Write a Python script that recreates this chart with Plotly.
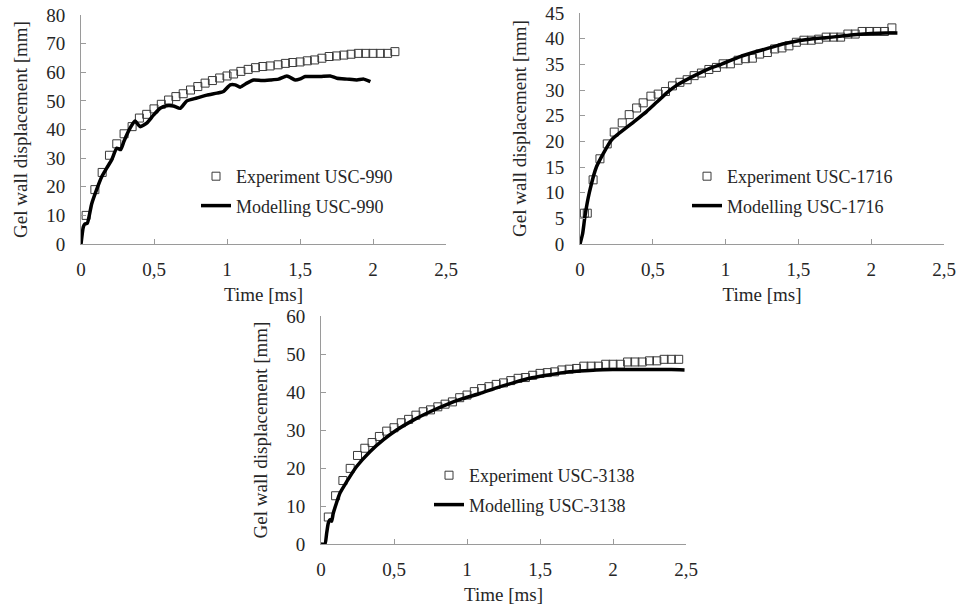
import plotly.graph_objects as go

# ---- USC-990 ----
exp990_t = [0.035, 0.095, 0.145, 0.195, 0.245, 0.295, 0.35, 0.4, 0.45, 0.5, 0.55, 0.6, 0.65, 0.7,
            0.75, 0.8, 0.85, 0.9, 0.95, 1.0, 1.045, 1.095, 1.145, 1.195, 1.245, 1.295, 1.35, 1.4,
            1.45, 1.5, 1.55, 1.6, 1.65, 1.7, 1.75, 1.8, 1.85, 1.9, 1.95, 2.0, 2.05, 2.1, 2.15]
exp990_d = [10, 19, 25, 31, 35, 38.5, 41, 44, 45.3, 47.2, 48.8, 50.3, 51.5, 52.5,
            53.8, 55, 56.2, 57.1, 58, 58.7, 59.4, 60.3, 61, 61.6, 62, 62.2, 62.6, 63.1,
            63.4, 63.6, 64, 64.3, 64.9, 65.5, 65.7, 66, 66.3, 66.6, 66.6, 66.6, 66.6, 66.6, 67.2]
mod990_t = [0, 0.016, 0.027, 0.043, 0.073, 0.107, 0.142, 0.176, 0.21, 0.245, 0.272, 0.295, 0.336,
            0.37, 0.405, 0.45, 0.496, 0.542, 0.587, 0.633, 0.679, 0.725, 0.793, 0.862, 0.93, 0.976,
            1.022, 1.056, 1.09, 1.136, 1.182, 1.239, 1.296, 1.353, 1.41, 1.467, 1.502, 1.536, 1.639,
            1.707, 1.753, 1.822, 1.89, 1.936, 1.982]
mod990_d = [0, 6, 7, 7.2, 14, 19, 23.5, 26.5, 29.4, 33.5, 33, 36, 40.5,
            43, 41, 42.2, 45, 47.4, 48.3, 48.2, 47.4, 50, 51, 52, 52.7, 53.3,
            55.6, 55.6, 54.8, 56.2, 57.3, 57.1, 57.3, 57.6, 58.7, 57.3, 57.7, 58.5, 58.5,
            58.7, 57.9, 57.6, 57.3, 57.6, 56.7]

# ---- USC-1716 ----
exp1716_t = [0.03, 0.05, 0.09, 0.137, 0.187, 0.235, 0.29, 0.338, 0.389, 0.434, 0.487, 0.537, 0.587,
             0.635, 0.686, 0.736, 0.784, 0.834, 0.885, 0.937, 0.983, 1.033, 1.086, 1.136, 1.184,
             1.234, 1.287, 1.337, 1.387, 1.435, 1.486, 1.538, 1.589, 1.639, 1.691, 1.742, 1.79,
             1.84, 1.89, 1.938, 1.989, 2.039, 2.091, 2.142]
exp1716_d = [6.0, 6.0, 12.5, 16.6, 19.5, 21.8, 23.6, 25.2, 26.5, 27.5, 28.8, 29.2, 29.7,
             30.8, 31.5, 32, 32.8, 33.3, 34, 34.4, 35.1, 35.1, 35.8, 36.1, 36.2,
             37, 37.3, 38, 38.2, 38.6, 39.3, 39.7, 39.7, 39.9, 40.3, 40.3, 40.3,
             40.9, 40.9, 41.4, 41.4, 41.4, 41.4, 42.1]
mod1716_t = [0, 0.018, 0.034, 0.064, 0.114, 0.217, 0.343, 0.457, 0.526, 0.594, 0.663, 0.8, 0.9,
             0.97, 1.1, 1.2, 1.3, 1.4, 1.5, 1.6, 1.69, 1.8, 1.9, 2.0, 2.1, 2.18]
mod1716_d = [0, 2, 5.4, 10, 15.1, 20.3, 23.2, 25.8, 27.6, 29.4, 30.9, 33, 34.3,
             35, 36.5, 37.4, 38.2, 39, 39.6, 40, 40.2, 40.5, 40.8, 41, 41.1, 41.1]

# ---- USC-3138 ----
exp3138_t = [0.05, 0.1, 0.15, 0.2, 0.25, 0.3, 0.35, 0.4, 0.45, 0.5, 0.55, 0.6, 0.65, 0.7, 0.75,
             0.8, 0.85, 0.9, 0.95, 1.0, 1.05, 1.1, 1.15, 1.2, 1.25, 1.3, 1.35, 1.4, 1.45, 1.5,
             1.55, 1.6, 1.65, 1.7, 1.75, 1.8, 1.85, 1.9, 1.95, 2.0, 2.05, 2.1, 2.15, 2.2, 2.25,
             2.3, 2.35, 2.4, 2.45]
exp3138_d = [7.1, 12.7, 16.7, 19.9, 23.3, 25.2, 26.7, 28.3, 29.7, 30.6, 31.9, 32.8, 33.9, 34.8,
             35.3, 36.1, 36.8, 37.4, 38.5, 39.2, 40.1, 40.9, 41.4, 42, 42.4, 43, 43.6, 43.8, 44.4,
             44.9, 45.1, 45.3, 45.8, 46, 46.2, 46.8, 46.8, 46.8, 47.3, 47.3, 47.3, 47.9, 47.9,
             47.9, 48.2, 48.2, 48.6, 48.6, 48.6]
mod3138_t = [0, 0.027, 0.039, 0.05, 0.062, 0.073, 0.084, 0.13, 0.176, 0.244, 0.335, 0.426, 0.518,
             0.632, 0.746, 0.86, 0.974, 1.088, 1.202, 1.316, 1.43, 1.544, 1.658, 1.771, 1.885,
             1.999, 2.2, 2.4, 2.49]
mod3138_d = [0, 0, 2.9, 5.5, 6.4, 6, 8.1, 13.4, 16.4, 20.4, 24.3, 27.4, 30,
             32.6, 34.8, 36.7, 38.3, 39.6, 41.1, 42.4, 43.6, 44.4, 45.1, 45.5, 45.8,
             45.9, 45.9, 45.9, 45.8]

x_ticks = [0, 0.5, 1, 1.5, 2, 2.5]
FONT = "Times New Roman, Liberation Serif, DejaVu Serif, serif"
TXT = "#262626"
AX = "#9a9a9a"

panels = [
    ("", "USC-990", exp990_t, exp990_d, mod990_t, mod990_d, "legend"),
    ("2", "USC-1716", exp1716_t, exp1716_d, mod1716_t, mod1716_d, "legend2"),
    ("3", "USC-3138", exp3138_t, exp3138_d, mod3138_t, mod3138_d, "legend3"),
]

fig = go.Figure()
for k, name, et, ed, mt, md, leg in panels:
    fig.add_trace(go.Scatter(
        x=et, y=ed, mode="markers", name="Experiment " + name,
        xaxis="x" + k, yaxis="y" + k, legend=leg, legendgroup=name + "e",
        marker=dict(symbol="square-open", size=8, color="#3a3a3a", line=dict(width=1)),
        cliponaxis=False,
    ))
    fig.add_trace(go.Scatter(
        x=mt, y=md, mode="lines", name="Modelling " + name,
        xaxis="x" + k, yaxis="y" + k, legend=leg, legendgroup=name + "m",
        line=dict(color="black", width=3.5, shape="spline", smoothing=0.5),
    ))


def xax(domain, anchor):
    return dict(domain=domain, anchor=anchor, range=[0, 2.5], tickvals=x_ticks,
                showgrid=False, zeroline=False, showline=True, linecolor=AX, linewidth=1,
                ticks="inside", ticklen=5, tickcolor=AX, automargin=False,
                tickfont=dict(family=FONT, size=19, color=TXT), ticklabelstandoff=8,
                title=dict(text="Time [ms]", font=dict(family=FONT, size=19, color=TXT), standoff=8))


def yax(domain, anchor, top, step):
    return dict(domain=domain, anchor=anchor, range=[0, top], dtick=step, tick0=0,
                showgrid=False, zeroline=False, showline=True, linecolor=AX, linewidth=1,
                ticks="inside", ticklen=5, tickcolor=AX, automargin=False,
                tickfont=dict(family=FONT, size=19, color=TXT), ticklabelstandoff=11,
                title=dict(text="Gel wall displacement [mm]",
                           font=dict(family=FONT, size=19, color=TXT), standoff=13))


def legend(x, y):
    return dict(x=x, y=y, xanchor="left", yanchor="top", bgcolor="rgba(0,0,0,0)",
                font=dict(family=FONT, size=18, color=TXT), itemwidth=30,
                traceorder="grouped", tracegroupgap=3)


fig.update_layout(
    width=958, height=609, autosize=False,
    margin=dict(l=0, r=0, t=0, b=0, pad=0, autoexpand=False),
    paper_bgcolor="white", plot_bgcolor="white", separators=", ",
    showlegend=True,
    xaxis=xax([81 / 958, 446 / 958], "y"),
    yaxis=yax([1 - 244 / 609, 1 - 15 / 609], "x", 80, 10),
    xaxis2=xax([580 / 958, 944 / 958], "y2"),
    yaxis2=yax([1 - 244 / 609, 1 - 13 / 609], "x2", 45, 5),
    xaxis3=xax([321 / 958, 686 / 958], "y3"),
    yaxis3=yax([1 - 544 / 609, 1 - 316 / 609], "x3", 60, 10),
    legend=legend(196 / 958, 1 - 158 / 609),
    legend2=legend(687 / 958, 1 - 158 / 609),
    legend3=legend(429 / 958, 1 - 457 / 609),
)

fig.write_html("out.html")
